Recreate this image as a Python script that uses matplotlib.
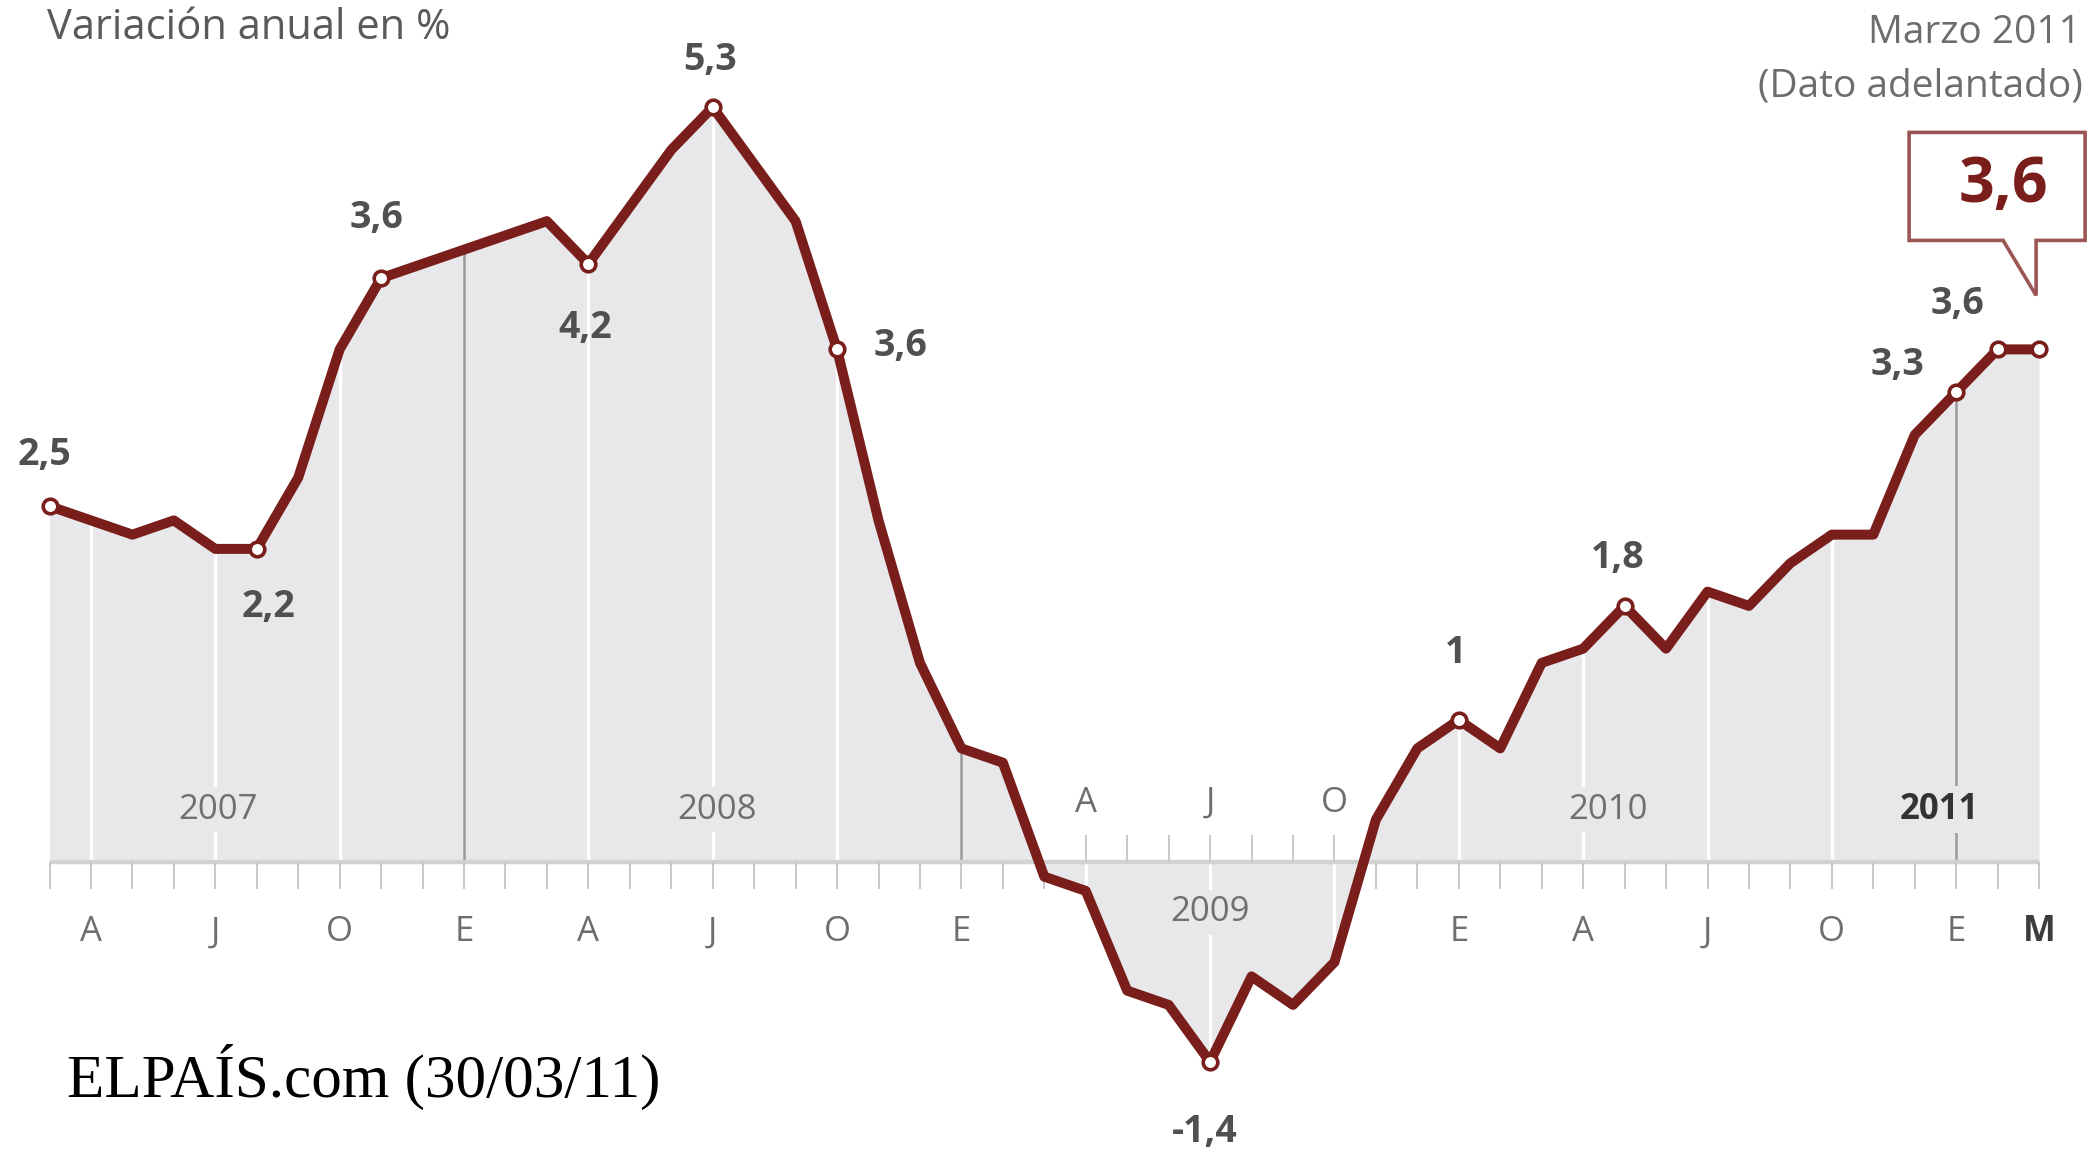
import numpy as np
import matplotlib
matplotlib.use("Agg")
import matplotlib.pyplot as plt
from matplotlib.patches import Polygon
from matplotlib.transforms import IdentityTransform

# ================= DATOS =================
# IPC, variación anual en %, marzo 2007 - marzo 2011 (mensual)
valores = [2.5, 2.4, 2.3, 2.4, 2.2, 2.2, 2.7, 3.6, 4.1, 4.2,          # 2007 (mar-dic)
           4.3, 4.4, 4.5, 4.2, 4.6, 5.0, 5.3, 4.9, 4.5, 3.6, 2.4, 1.4,  # 2008
           0.8, 0.7, -0.1, -0.2, -0.9, -1.0, -1.4, -0.8, -1.0, -0.7, 0.3, 0.8,  # 2009
           1.0, 0.8, 1.4, 1.5, 1.8, 1.5, 1.9, 1.8, 2.1, 2.3, 2.3, 3.0,  # 2010
           3.3, 3.6, 3.6]                                               # 2011
letras_mes = ["E", "F", "M", "A", "M", "J", "J", "A", "S", "O", "N", "D"]
mes_inicio = 2  # marzo

# puntos destacados y su texto (tal como aparece en el gráfico)
destacados = [0, 5, 8, 13, 16, 19, 28, 34, 38, 46, 47, 48]
etiquetas = ["2,5", "2,2", "3,6", "4,2", "5,3", "3,6", "-1,4", "1", "1,8", "3,3", "3,6", ""]
anios = ["2007", "2008", "2009", "2010", "2011"]
titulo = "Variación anual en %"
nota1 = "Marzo 2011"
nota2 = "(Dato adelantado)"
dato_final = "3,6"
fuente = "ELPAÍS.com (30/03/11)"

# ================= ESTILO =================
ROJO = "#7a1e1b"
GRIS_FONDO = "#e8e8eb"
GRIS_TEXTO = "#505050"
FUENTE = ["Open Sans", "DejaVu Sans"]
plt.rcParams["font.family"] = FUENTE

W, H = 2098, 1154
PX_MES = 41.45       # píxeles por mes
X0 = 49.5            # píxel del primer mes
PX_UNI = 142.5       # píxeles por punto porcentual
Y0 = 862.4           # píxel (desde arriba) de la línea del cero

v = np.array(valores)
idx = np.arange(len(v))
mes = (idx + mes_inicio) % 12

fig = plt.figure(figsize=(W / 100, H / 100), dpi=100)
ax = fig.add_axes([0, 0, 1, 1])
ax.axis("off")
ax.set_xlim(-X0 / PX_MES, (W - X0) / PX_MES)
ax.set_ylim(-(H - Y0) / PX_UNI, Y0 / PX_UNI)

# área gris
ax.fill_between(idx, v, 0, color=GRIS_FONDO, lw=0, zorder=1)

# líneas verticales trimestrales (blancas) y de cambio de año (gris oscuro)
oscuras = [10, 22, 46]
for i in idx:
    if i in oscuras:
        ax.vlines(i, 0, v[i], color="#9a9a9a", lw=1.8, zorder=2)
    elif mes[i] % 3 == 0:
        ax.vlines(i, 0, v[i], color="white", lw=2.4, zorder=2)

# eje del cero y marcas mensuales
ax.hlines(0, idx[0], idx[-1], color="#d2d2d2", lw=3.2, zorder=3)
arriba = set(range(25, 32))
for i in idx:
    if i in arriba:
        ax.vlines(i, 0, 0.19, color="#c8c8c8", lw=1.4, zorder=3)
    else:
        ax.vlines(i, -0.19, 0, color="#c8c8c8", lw=1.4, zorder=3)

# línea y marcadores
ax.plot(idx, v, color=ROJO, lw=7.2, zorder=5, solid_joinstyle="round")
ax.plot(idx[destacados], v[destacados], "o", ms=10.5, mfc="white", mec=ROJO,
        mew=2.6, zorder=6)

# etiquetas de valores (desplazamiento en píxeles)
offsets = [(-5, 51), (12, -58), (-5, 60), (-3, -64), (-3, 47), (63, 3),
           (-5, -70), (-3, 67), (-7, 48), (-59, 27), (-40, 45), (0, 0)]
for i, txt, (dx, dy) in zip(destacados, etiquetas, offsets):
    if txt:
        ax.annotate(txt, (i, v[i]), xytext=(dx, dy), textcoords="offset pixels",
                    ha="center", va="center", fontsize=27, fontweight="bold",
                    color=GRIS_TEXTO, zorder=7)

# letras de los meses
for i in idx:
    if mes[i] % 3 != 0 and i != idx[-1]:
        continue
    if i in arriba:
        ax.text(i, 0.42, letras_mes[mes[i]], ha="center", va="center",
                fontsize=25, color="#6e6e6e", zorder=4)
    else:
        bold = i == idx[-1]
        ax.text(i, -0.49, letras_mes[mes[i]], ha="center", va="center",
                fontsize=25, color="#3c3c3c" if bold else "#6e6e6e",
                fontweight="bold" if bold else "normal", zorder=4)

# años
pos_anios = [(4.06, 0.37), (16.1, 0.37), (28.0, -0.35), (37.6, 0.37), (45.6, 0.37)]
for a, (x, y) in zip(anios, pos_anios):
    bold = a == anios[-1]
    ax.text(x, y, a, ha="center", va="center", fontsize=25,
            color="#333333" if bold else "#707070",
            fontweight="bold" if bold else "normal", zorder=4,
            bbox=dict(facecolor=GRIS_FONDO, edgecolor="none", pad=4))

# textos de cabecera
fig.text(47 / W, 1 - 39 / H, titulo, ha="left", va="baseline",
         fontsize=30, color="#5a5a5a")
fig.text(2081 / W, 1 - 43 / H, nota1, ha="right", va="baseline",
         fontsize=28, color="#6d6d6d")
fig.text(2083 / W, 1 - 96 / H, nota2, ha="right", va="baseline",
         fontsize=28, color="#6d6d6d")

# bocadillo con el último dato
fig.canvas.draw()
tx, ty = ax.transData.transform((idx[-1], v[-1]))
tx, ty = tx - 3, ty + 54
caja = [(tx - 127, ty + 55), (tx - 127, ty + 163), (tx + 49, ty + 163),
        (tx + 49, ty + 55), (tx, ty + 55), (tx, ty), (tx - 33, ty + 55)]
ax.add_patch(Polygon(caja, closed=True, facecolor="white", edgecolor="#9b5553",
                     lw=2.6, transform=IdentityTransform(), zorder=8))
fig.text((tx - 33) / W, (ty + 110) / H, dato_final, ha="center", va="center",
         fontsize=45, fontweight="bold", color=ROJO, zorder=9)

# firma
fig.text(67 / W, 1 - 1097 / H, fuente, ha="left", va="baseline",
         fontsize=44, color="black", family=["Liberation Serif", "DejaVu Serif"])

fig.savefig("out.png", dpi=100)
